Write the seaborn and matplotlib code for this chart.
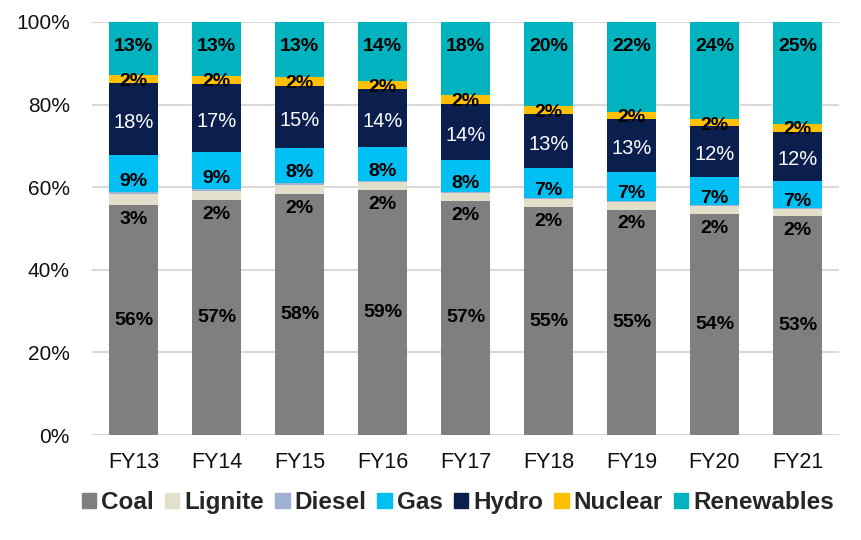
"""Mix de generación por fuente, FY13-FY21 (barras apiladas al 100%)."""

import numpy as np
import pandas as pd
import matplotlib
matplotlib.use("Agg")
import matplotlib.pyplot as plt
import matplotlib.patches as mpatches
import seaborn as sns

YEARS = ["FY13", "FY14", "FY15", "FY16", "FY17", "FY18", "FY19", "FY20", "FY21"]
SOURCES = ["Coal", "Lignite", "Diesel", "Gas", "Hydro", "Nuclear", "Renewables"]

coal = [55.6, 56.9, 58.4, 59.4, 56.7, 55.2, 54.6, 53.6, 53.0]
lignite = [2.7, 2.2, 2.2, 1.8, 1.9, 2.0, 1.8, 1.8, 1.8]
diesel = [0.5, 0.4, 0.5, 0.3, 0.2, 0.2, 0.2, 0.2, 0.2]
gas = [8.9, 9.0, 8.4, 8.2, 7.8, 7.3, 7.2, 6.9, 6.6]
hydro = [17.5, 16.6, 15.1, 14.0, 13.6, 13.0, 12.7, 12.2, 11.8]
nuclear = [2.0, 1.9, 2.0, 2.0, 2.1, 2.0, 1.8, 1.7, 1.9]
renewables = [12.8, 13.0, 13.4, 14.3, 17.7, 20.3, 21.7, 23.6, 24.7]

COLORS = ["#7F7F7F", "#E2DFCA", "#9FB1D3", "#00BFF3", "#0B1F4F", "#FFC000", "#00B3BE"]

sns.set_style("white")
plt.rcParams["font.family"] = ["Liberation Sans", "DejaVu Sans"]

df = pd.DataFrame({"year": YEARS, "Coal": coal, "Lignite": lignite, "Diesel": diesel,
                   "Gas": gas, "Hydro": hydro, "Nuclear": nuclear,
                   "Renewables": renewables})
cum = df[SOURCES].cumsum(axis=1)

fig = plt.figure(figsize=(8.62, 5.40), dpi=100)
ax = fig.add_axes([0.1067, 0.1944, 0.8666, 0.7649])

# apilado: se pinta del total hacia abajo, cada serie tapa a las de encima
for src, col in reversed(list(zip(SOURCES, COLORS))):
    sns.barplot(data=cum.assign(year=YEARS), x="year", y=src, color=col,
                saturation=1, width=0.59, linewidth=0, ax=ax)

x = np.arange(len(YEARS))
lab_bold = dict(ha="center", va="center", fontsize=14, weight="bold", color="black")
for i in x:
    c_top = cum["Coal"][i]
    ax.text(i, c_top / 2, f"{coal[i]:.0f}%", **lab_bold)
    ax.text(i, c_top - 3.5, f"{lignite[i]:.0f}%", **lab_bold)
    g_c = cum["Gas"][i] - gas[i] / 2
    ax.text(i, g_c - 1.8, f"{gas[i]:.0f}%", **lab_bold)
    h_c = cum["Hydro"][i] - hydro[i] / 2
    ax.text(i, h_c - 0.8, f"{hydro[i]:.0f}%", ha="center", va="center",
            fontsize=14.5, color="white")
    n_c = cum["Nuclear"][i] - nuclear[i] / 2
    ax.text(i, n_c - 0.5, f"{nuclear[i]:.0f}%", **lab_bold)
    ax.text(i, 94, f"{renewables[i]:.0f}%", **lab_bold)

ax.set_ylim(0, 100)
ax.set_xlim(-0.5, len(YEARS) - 0.5)
ax.set_yticks(range(0, 101, 20))
ax.set_yticklabels([f"{v}%" for v in range(0, 101, 20)], fontsize=15, color="#111111")
ax.set_xticks(x)
ax.set_xticklabels(YEARS, fontsize=15.5, color="#111111")
ax.tick_params(axis="y", length=0, pad=16)
ax.tick_params(axis="x", length=0, pad=12)
ax.set_xlabel("")
ax.set_ylabel("")
ax.yaxis.grid(True, color="#D9D9D9", lw=1.5)
ax.set_axisbelow(True)
for s in ax.spines.values():
    s.set_visible(False)

handles = [mpatches.Patch(color=c, label=s) for s, c in zip(SOURCES, COLORS)]
fig.legend(handles=handles, loc="center", bbox_to_anchor=(0.531, 0.069), ncol=7,
           frameon=False, prop={"size": 17.5, "weight": "bold"},
           handlelength=0.6, handleheight=0.6, handletextpad=0.2,
           columnspacing=0.45, borderaxespad=0)

fig.savefig("out.png", dpi=100)
